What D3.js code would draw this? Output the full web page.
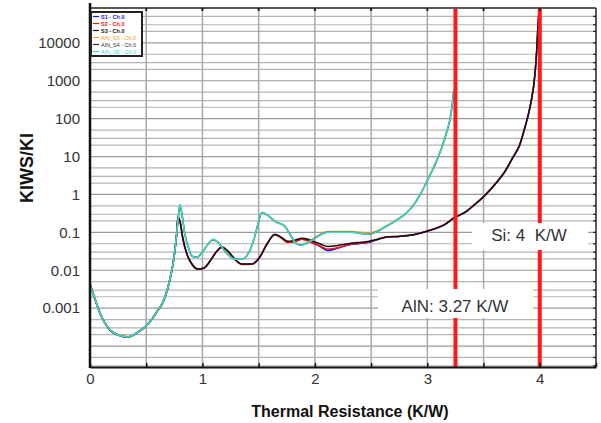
<!DOCTYPE html>
<html><head><meta charset="utf-8">
<script src="https://cdn.jsdelivr.net/npm/d3@7"></script>
<style>body{margin:0;background:#fff} svg{display:block} text{font-family:"Liberation Sans",Arial,sans-serif}</style>
</head><body><svg id="c" width="601" height="423"></svg>
<script>
// ---------- data ----------
const seriesNames = ["S1 - Ch.0","S2 - Ch.0","S3 - Ch.0","AlN_S3 - Ch.0","AlN_S4 - Ch.0","AlN_S5 - Ch.0"];
const seriesColors = ["#1010ff","#ff1010","#111111","#ff9a1a","#333333","#33e0d0"];

const xA = [0,0.044,0.089,0.133,0.178,0.249,0.338,0.427,0.498,0.551,0.604,0.64,0.676,0.711,0.738,0.756,0.773,0.782,0.8,0.827,0.862,0.907,0.96,1.013,1.067,1.12,1.173,1.227,1.289,1.351,1.44,1.511,1.573,1.644,1.698,1.76,1.822,1.884,1.938,1.973,2.044,2.116,2.204,2.293,2.382,2.471,2.56,2.622,2.756,2.889,3.022,3.156,3.244,3.333,3.422,3.511,3.6,3.689,3.76,3.822,3.867,3.902,3.929,3.947,3.964,3.973,3.982,3.991,4.0];
const yS1 = [0.00428,0.00173,0.000738,0.000403,0.000264,0.000195,0.000173,0.000234,0.000336,0.000514,0.000886,0.00127,0.00233,0.0058,0.0144,0.0357,0.106,0.248,0.195,0.0655,0.0264,0.0144,0.0106,0.0113,0.0173,0.0298,0.0403,0.0316,0.0194,0.0144,0.0144,0.022,0.0483,0.0885,0.0738,0.0546,0.058,0.0655,0.0615,0.0546,0.0429,0.033,0.038,0.046,0.05,0.054,0.065,0.073,0.078,0.088,0.112,0.16,0.245,0.33,0.54,0.93,1.8,3.9,9.2,20,56,140,350,770,2600,6500,22000,54600,83400];
const yS2 = [0.0045,0.0018,0.00075,0.00041,0.00027,0.0002,0.000175,0.000236,0.00034,0.00052,0.0009,0.0013,0.0024,0.006,0.015,0.037,0.11,0.235,0.19,0.064,0.026,0.0142,0.0107,0.0115,0.0175,0.03,0.04,0.031,0.019,0.0142,0.0145,0.023,0.05,0.087,0.072,0.054,0.057,0.066,0.06,0.053,0.044,0.036,0.039,0.047,0.051,0.055,0.066,0.074,0.079,0.089,0.114,0.165,0.25,0.34,0.55,0.95,1.85,4.1,9.6,21,59,147,365,800,2700,6600,22500,55000,83400];
const yS3 = [0.0043,0.00172,0.00074,0.0004,0.000262,0.000194,0.000172,0.000232,0.000333,0.00051,0.00088,0.00126,0.0023,0.0057,0.0142,0.035,0.105,0.26,0.2,0.067,0.027,0.0146,0.0108,0.0114,0.0172,0.0295,0.041,0.032,0.0195,0.0146,0.0146,0.0225,0.048,0.088,0.075,0.058,0.062,0.07,0.066,0.06,0.05,0.042,0.045,0.05,0.054,0.057,0.066,0.074,0.079,0.088,0.113,0.162,0.248,0.335,0.545,0.94,1.83,4.0,9.4,20.5,58,143,355,790,2650,6550,22000,54600,83400];

const xB = [0,0.044,0.089,0.133,0.178,0.249,0.338,0.427,0.498,0.551,0.604,0.64,0.676,0.711,0.738,0.756,0.773,0.782,0.8,0.818,0.844,0.88,0.907,0.951,1.004,1.049,1.093,1.138,1.2,1.289,1.351,1.404,1.458,1.493,1.529,1.582,1.644,1.733,1.778,1.822,1.867,1.911,1.973,2.027,2.116,2.222,2.329,2.471,2.56,2.622,2.711,2.8,2.862,2.933,3.004,3.076,3.129,3.173,3.209,3.227,3.236];
const yAlN3 = [0.0044,0.00175,0.00074,0.000405,0.000265,0.000196,0.000174,0.000235,0.000338,0.000516,0.00089,0.00128,0.00235,0.0059,0.0146,0.036,0.104,0.19,0.5,0.29,0.09,0.036,0.0236,0.0224,0.032,0.048,0.064,0.055,0.032,0.0198,0.0196,0.0268,0.066,0.16,0.33,0.28,0.198,0.146,0.09,0.056,0.047,0.05,0.064,0.082,0.105,0.106,0.105,0.095,0.11,0.14,0.2,0.3,0.46,0.95,2.5,7.0,17.5,46,128,320,585];
const yAlN4 = [0.00427,0.00172,0.000736,0.000402,0.000263,0.000194,0.000172,0.000233,0.000335,0.000512,0.000884,0.00126,0.00232,0.0058,0.0143,0.0355,0.105,0.2,0.53,0.3,0.089,0.0358,0.0234,0.0221,0.0317,0.0485,0.0652,0.0548,0.0318,0.0195,0.0195,0.0265,0.0652,0.162,0.334,0.281,0.196,0.145,0.089,0.055,0.046,0.049,0.062,0.079,0.101,0.101,0.1,0.089,0.107,0.137,0.196,0.298,0.455,0.94,2.47,6.9,17.2,45,126,314,575];
const yAlN5 = [0.00428,0.00173,0.000738,0.000403,0.000264,0.000195,0.000173,0.000234,0.000336,0.000514,0.000886,0.00127,0.00233,0.0058,0.0144,0.0357,0.106,0.2,0.546,0.298,0.0885,0.0357,0.0233,0.022,0.0316,0.0483,0.0655,0.0546,0.0316,0.0194,0.0194,0.0264,0.0655,0.163,0.336,0.28,0.195,0.144,0.0885,0.0546,0.0455,0.0483,0.0615,0.0786,0.1,0.1,0.1,0.0885,0.106,0.136,0.195,0.298,0.455,0.942,2.48,6.95,17.3,45.5,127,316,579];

const xTickLabels = ["0","1","2","3","4"];
const yTickLabels = ["10000","1000","100","10","1","0.1","0.01","0.001"];
const yTickValues = [1e4,1e3,100,10,1,0.1,0.01,0.001];
const markerX = [3.25, 4.0];
const markerLabels = ["AlN: 3.27 K/W","Si: 4  K/W"];
const xTitle = "Thermal Resistance (K/W)";
const yTitle = "KIWS/KI";

// ---------- chart ----------
const svg = d3.select("#c");
const L=90,R=596,T=8,B=367;
const x = d3.scaleLinear().domain([0,4.5]).range([L,R]);
const y = d3.scaleLog().domain([2.8e-5,8.3e4]).range([B,T]);

svg.append("rect").attr("width",601).attr("height",423).attr("fill","#fff");

// horizontal grid
const hGrid=[];
for(let k=-5;k<=4;k++){ for(const m of [1,2,3,5]){ const v=m*Math.pow(10,k); if(v>y.domain()[0]&&v<y.domain()[1]) hGrid.push({v,major:m===1}); } }
svg.append("g").selectAll("line").data(hGrid).join("line")
  .attr("x1",L).attr("x2",R).attr("y1",d=>y(d.v)).attr("y2",d=>y(d.v))
  .attr("stroke",d=>d.major?"#9a9a9a":"#b4b4b4").attr("stroke-width",1.2);
// vertical grid
const vGrid=d3.range(0.5,4.5,0.5);
svg.append("g").selectAll("line").data(vGrid).join("line")
  .attr("x1",d=>x(d)).attr("x2",d=>x(d)).attr("y1",T).attr("y2",B)
  .attr("stroke","#a8a8a8").attr("stroke-width",1.5);

// curves
const clip = svg.append("clipPath").attr("id","pc").append("rect").attr("x",L).attr("y",T).attr("width",R-L).attr("height",B-T);
const series = [
  {xs:xA,ys:yS1},{xs:xA,ys:yS2},{xs:xA,ys:yS3},
  {xs:xB,ys:yAlN3},{xs:xB,ys:yAlN4},{xs:xB,ys:yAlN5}
];
const line = d3.line().x(d=>x(d[0])).y(d=>y(d[1])).curve(d3.curveMonotoneX);
const cg = svg.append("g").attr("clip-path","url(#pc)");
series.forEach((s,i)=>{
  cg.append("path").attr("d",line(s.xs.map((v,j)=>[v,s.ys[j]])))
    .attr("fill","none").attr("stroke",seriesColors[i]).attr("stroke-width",1.5);
});

// red marker lines
svg.append("g").selectAll("line").data(markerX).join("line")
  .attr("x1",d=>x(d)).attr("x2",d=>x(d)).attr("y1",T+1).attr("y2",B)
  .attr("stroke","#ff1a1a").attr("stroke-width",4);

// frame
svg.append("line").attr("x1",L).attr("x2",R).attr("y1",T).attr("y2",T).attr("stroke","#222").attr("stroke-width",1.5);
svg.append("line").attr("x1",R).attr("x2",R).attr("y1",T).attr("y2",B).attr("stroke","#222").attr("stroke-width",1.5);
// top ticks
svg.append("g").selectAll("line").data(vGrid).join("line")
  .attr("x1",d=>x(d)).attr("x2",d=>x(d)).attr("y1",T).attr("y2",T+3).attr("stroke","#222").attr("stroke-width",2);
// right ticks
svg.append("g").selectAll("line").data(hGrid).join("line")
  .attr("x1",R-3).attr("x2",R).attr("y1",d=>y(d.v)).attr("y2",d=>y(d.v)).attr("stroke","#222").attr("stroke-width",1.2);

// x axis
const xAxis = svg.append("g").attr("transform",`translate(0,${B})`)
  .call(d3.axisBottom(x).tickValues(d3.range(0,4.51,0.5)).tickSizeInner(-4).tickSizeOuter(0).tickPadding(6)
    .tickFormat(d=>Number.isInteger(d)?xTickLabels[d]:""));
xAxis.select(".domain").attr("stroke","#111").attr("stroke-width",2);
xAxis.selectAll(".tick line").attr("stroke","#111").attr("stroke-width",1.5);
xAxis.selectAll("text").attr("font-size",15).attr("fill","#333");

// y axis
const yAxis = svg.append("g").attr("transform",`translate(${L},0)`)
  .call(d3.axisLeft(y).tickValues(yTickValues).tickSize(0).tickPadding(10)
    .tickFormat((d,i)=>yTickLabels[i]));
yAxis.select(".domain").remove();
yAxis.selectAll("text").attr("font-size",15).attr("fill","#333");
svg.append("line").attr("x1",L).attr("x2",L).attr("y1",3).attr("y2",B+1).attr("stroke","#111").attr("stroke-width",2.5);

// titles
svg.append("text").attr("x",350).attr("y",417).attr("text-anchor","middle")
  .attr("font-size",16).attr("font-weight","bold").attr("fill","#111").text(xTitle);
svg.append("text").attr("transform","translate(33,168) rotate(-90)").attr("text-anchor","middle")
  .attr("font-size",18).attr("font-weight","bold").attr("fill","#111").text(yTitle);

// annotation boxes
const boxes=[{x0:378,x1:533,y0:289,y1:318,tx:455,ty:312,t:markerLabels[0]},
             {x0:472,x1:588,y0:223,y1:250,tx:529,ty:241,t:markerLabels[1]}];
boxes.forEach(b=>{
  svg.append("rect").attr("x",b.x0).attr("y",b.y0).attr("width",b.x1-b.x0).attr("height",b.y1-b.y0).attr("fill","#fff");
  svg.append("text").attr("x",b.tx).attr("y",b.ty).attr("text-anchor","middle").attr("font-size",17).attr("fill","#333")
    .style("white-space","pre").text(b.t);
});

// legend
const lg = svg.append("g");
lg.append("rect").attr("x",91).attr("y",12).attr("width",51).attr("height",44).attr("fill","#fff").attr("stroke","#222").attr("stroke-width",2);
seriesNames.forEach((n,i)=>{
  const yy=16.5+i*7;
  lg.append("line").attr("x1",93).attr("x2",99).attr("y1",yy).attr("y2",yy).attr("stroke",seriesColors[i]).attr("stroke-width",1.2);
  lg.append("text").attr("x",101).attr("y",yy+2).attr("font-size",5.5).attr("font-weight",i<3?"bold":"normal")
    .attr("fill",seriesColors[i]).text(n);
});
</script></body></html>
